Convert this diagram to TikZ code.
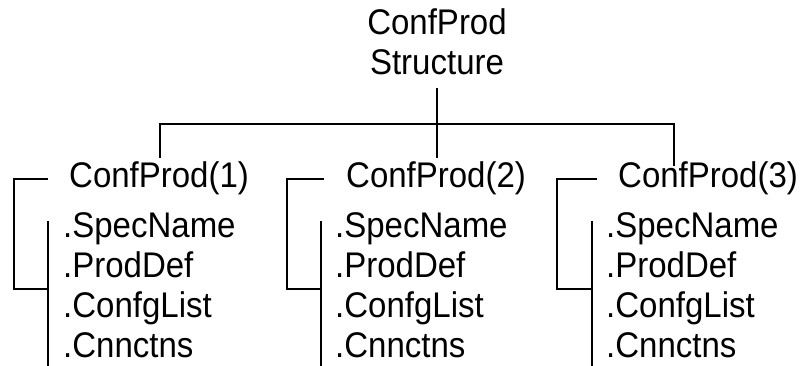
\documentclass[tikz,border=0pt]{standalone}
\usepackage{fontspec}
\setmainfont{Liberation Sans}
\tikzset{
  lbl/.style={anchor=base west, inner sep=0pt, yscale=1.08, transform shape,
    font=\fontsize{33}{40}\selectfont},
  conn/.style={line width=2.3pt, line join=miter}
}
\begin{document}
\begin{tikzpicture}[x=1pt,y=-1pt]
\useasboundingbox (0,0) rectangle (804,366);
% root
\path (437,35) node[lbl,anchor=base] (root){ConfProd};
\path (437,75) node[lbl,anchor=base] (rootb){Structure};
\path (437,88) coordinate (roottop);
\path (437,158) coordinate (rootbot);
\path (160,124) coordinate (barleft);
\path (674,124) coordinate (barright);
\path (160,158) coordinate (dropleft);
\path (674,166) coordinate (dropright);
% draw
\draw[conn] (roottop) -- (rootbot);
\draw[conn] (dropleft) -- (barleft) -- (barright) -- (dropright);

% group 1
\path (69,188) node[lbl] (cp1){ConfProd(1)};
\path (63,238) node[lbl] (spec1){.SpecName};
\path (63,278) node[lbl] (prod1){.ProdDef};
\path (63,318) node[lbl] (confg1){.ConfgList};
\path (63,358) node[lbl] (cnn1){.Cnnctns};
\path (48,179) coordinate (topright1);
\path (14,179) coordinate (topleft1);
\path (14,289) coordinate (botleft1);
\path (48,289) coordinate (botright1);
\path (48,221) coordinate (innertop1);
\path (48,366) coordinate (innerbot1);
% draw
\draw[conn] (topright1) -- (topleft1) -- (botleft1) -- (botright1);
\draw[conn] (innertop1) -- (innerbot1);

% group 2
\path (346,188) node[lbl] (cp2){ConfProd(2)};
\path (335,238) node[lbl] (spec2){.SpecName};
\path (335,278) node[lbl] (prod2){.ProdDef};
\path (335,318) node[lbl] (confg2){.ConfgList};
\path (335,358) node[lbl] (cnn2){.Cnnctns};
\path (324,179) coordinate (topright2);
\path (287,179) coordinate (topleft2);
\path (287,289) coordinate (botleft2);
\path (321,289) coordinate (botright2);
\path (321,221) coordinate (innertop2);
\path (321,366) coordinate (innerbot2);
% draw
\draw[conn] (topright2) -- (topleft2) -- (botleft2) -- (botright2);
\draw[conn] (innertop2) -- (innerbot2);

% group 3
\path (618,188) node[lbl] (cp3){ConfProd(3)};
\path (606,238) node[lbl] (spec3){.SpecName};
\path (606,278) node[lbl] (prod3){.ProdDef};
\path (606,318) node[lbl] (confg3){.ConfgList};
\path (606,358) node[lbl] (cnn3){.Cnnctns};
\path (597,179) coordinate (topright3);
\path (557,179) coordinate (topleft3);
\path (557,289) coordinate (botleft3);
\path (592,289) coordinate (botright3);
\path (592,221) coordinate (innertop3);
\path (592,366) coordinate (innerbot3);
% draw
\draw[conn] (topright3) -- (topleft3) -- (botleft3) -- (botright3);
\draw[conn] (innertop3) -- (innerbot3);
\end{tikzpicture}
\end{document}
